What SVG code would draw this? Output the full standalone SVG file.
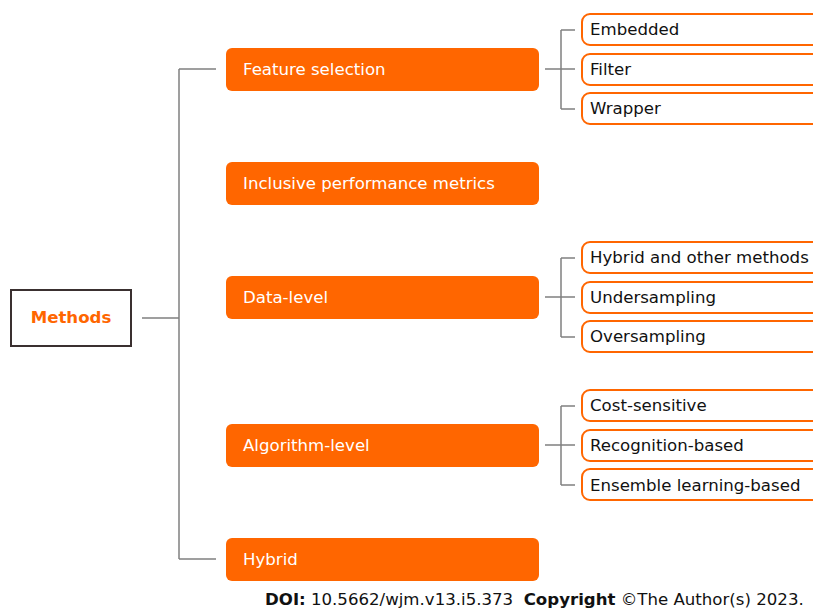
<svg xmlns="http://www.w3.org/2000/svg" width="813" height="608" viewBox="0 0 813 608">
<style>
text{font-family:"DejaVu Sans","Verdana",sans-serif;font-size:16.6px}
.main rect{fill:#FF6600}
.main text{fill:#ffffff}
.leaf rect{fill:#ffffff;stroke:#FF6600;stroke-width:2}
.leaf text{fill:#111111}
.conn{fill:none;stroke:#808080;stroke-width:1.5}
</style>
<rect width="813" height="608" fill="#ffffff"/>
<g id="connectors" class="conn">
<path d="M142,318 H179 M179,69 V559 M179,69 H216 M179,559 H216"/>
<path d="M545,69 H561 M561,30 V109 M561,30 H575 M561,69 H575 M561,109 H575"/>
<path d="M545,297 H561 M561,258 V337 M561,258 H575 M561,297 H575 M561,337 H575"/>
<path d="M545,445 H561 M561,406 V485 M561,406 H575 M561,445 H575 M561,485 H575"/>
</g>
<g id="methods">
<rect x="11" y="290" width="120" height="56" fill="#ffffff" stroke="#3a3030" stroke-width="2"/>
<text x="71" y="323" text-anchor="middle" font-weight="bold" fill="#FF6600">Methods</text>
</g>
<g id="feature-selection" class="main"><rect x="226" y="48" width="313" height="43" rx="6"/><text x="243" y="75">Feature selection</text></g>
<g id="inclusive" class="main"><rect x="226" y="162" width="313" height="43" rx="6"/><text x="243" y="189">Inclusive performance metrics</text></g>
<g id="data-level" class="main"><rect x="226" y="276" width="313" height="43" rx="6"/><text x="243" y="303">Data-level</text></g>
<g id="algorithm-level" class="main"><rect x="226" y="424" width="313" height="43" rx="6"/><text x="243" y="451">Algorithm-level</text></g>
<g id="hybrid" class="main"><rect x="226" y="538" width="313" height="43" rx="6"/><text x="243" y="565">Hybrid</text></g>
<g id="embedded" class="leaf"><rect x="582" y="14" width="240" height="31" rx="8"/><text x="590" y="35">Embedded</text></g>
<g id="filter" class="leaf"><rect x="582" y="54" width="240" height="31" rx="8"/><text x="590" y="75">Filter</text></g>
<g id="wrapper" class="leaf"><rect x="582" y="93" width="240" height="31" rx="8"/><text x="590" y="114">Wrapper</text></g>
<g id="hybrid-other" class="leaf"><rect x="582" y="242" width="240" height="31" rx="8"/><text x="590" y="263">Hybrid and other methods</text></g>
<g id="undersampling" class="leaf"><rect x="582" y="282" width="240" height="31" rx="8"/><text x="590" y="303">Undersampling</text></g>
<g id="oversampling" class="leaf"><rect x="582" y="321" width="240" height="31" rx="8"/><text x="590" y="342">Oversampling</text></g>
<g id="cost-sensitive" class="leaf"><rect x="582" y="390" width="240" height="31" rx="8"/><text x="590" y="411">Cost-sensitive</text></g>
<g id="recognition" class="leaf"><rect x="582" y="430" width="240" height="31" rx="8"/><text x="590" y="451">Recognition-based</text></g>
<g id="ensemble" class="leaf"><rect x="582" y="469" width="240" height="31" rx="8"/><text x="590" y="491">Ensemble learning-based</text></g>
<text x="265" y="605" fill="#111111" xml:space="preserve" style="white-space:pre"><tspan font-weight="bold">DOI:</tspan> 10.5662/wjm.v13.i5.373  <tspan font-weight="bold">Copyright</tspan> ©The Author(s) 2023.</text>
</svg>
